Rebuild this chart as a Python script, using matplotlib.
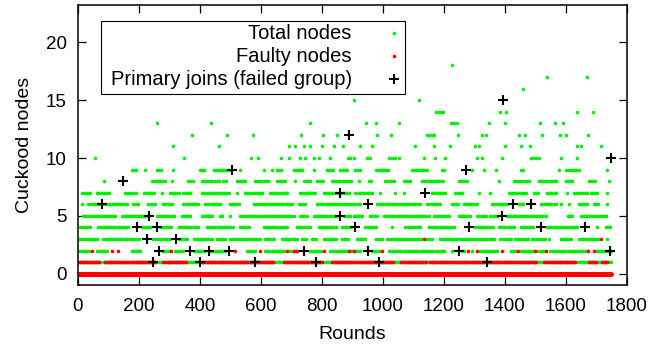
import numpy as np
import matplotlib
matplotlib.use("Agg")
import matplotlib.pyplot as plt
from matplotlib.patches import Rectangle

plt.rcParams['font.family'] = ['Liberation Sans', 'DejaVu Sans']

# total nodes: per level, runs of rounds (start, end) where dots appear
total_1 = [(0, 1750)]
total_2 = [(1, 39), (61, 100), (176, 209), (280, 302), (318, 351), (384, 417), (434, 488),
           (554, 587), (614, 680), (696, 718), (762, 800), (828, 926), (965, 987),
           (1019, 1205), (1227, 1227), (1260, 1271), (1293, 1293), (1320, 1381),
           (1419, 1441), (1452, 1496), (1507, 1534), (1550, 1671), (1698, 1747)]
total_3 = [(1, 67), (83, 160), (171, 204), (247, 308), (330, 362), (379, 428), (434, 445),
           (455, 488), (499, 598), (614, 647), (669, 718), (735, 751), (767, 784),
           (806, 850), (866, 893), (915, 943), (976, 998), (1014, 1129), (1140, 1162),
           (1189, 1370), (1386, 1424), (1435, 1479), (1490, 1534), (1545, 1545),
           (1583, 1622), (1643, 1709), (1736, 1736)]
total_4 = [(6, 45), (67, 171), (209, 242), (269, 308), (330, 395), (423, 510), (532, 565),
           (609, 691), (718, 762), (789, 850), (866, 899), (943, 981), (1030, 1030),
           (1074, 1129), (1151, 1238), (1304, 1364), (1381, 1430), (1452, 1496),
           (1539, 1638), (1704, 1704), (1731, 1747)]
total_5 = [(17, 127), (143, 236), (258, 318), (340, 373), (406, 445), (466, 477),
           (499, 499), (532, 707), (729, 751), (773, 850), (872, 893), (905, 937),
           (959, 981), (1003, 1151), (1167, 1222), (1250, 1288), (1310, 1343),
           (1353, 1375), (1408, 1540), (1606, 1622), (1649, 1737)]
total_6 = [(12, 12), (34, 160), (182, 198), (231, 258), (280, 308), (346, 395), (417, 466),
           (499, 532), (576, 707), (724, 751), (784, 927), (981, 1124), (1146, 1190),
           (1227, 1249), (1266, 1310), (1359, 1408), (1446, 1463), (1518, 1573),
           (1584, 1589), (1611, 1611), (1643, 1676), (1693, 1709), (1736, 1736)]
total_7 = [(12, 45), (61, 105), (154, 193), (215, 253), (275, 275), (302, 330), (346, 373),
           (406, 499), (521, 521), (548, 609), (630, 691), (729, 784), (806, 893),
           (910, 970), (992, 992), (1041, 1041), (1069, 1069), (1162, 1205), (1238, 1260),
           (1315, 1315), (1353, 1353), (1413, 1474), (1496, 1512), (1539, 1567),
           (1605, 1605), (1627, 1671), (1682, 1704), (1736, 1736)]
total_8 = [(86, 86), (242, 286), (308, 308), (362, 379), (406, 466), (477, 488), (521, 554),
           (581, 625), (652, 685), (713, 713), (740, 762), (784, 806), (833, 899),
           (921, 921), (954, 965), (1008, 1041), (1069, 1096), (1129, 1205), (1249, 1282),
           (1381, 1381), (1430, 1479), (1512, 1572), (1600, 1622), (1676, 1698),
           (1742, 1742)]
total_9 = [(176, 193), (220, 220), (258, 277), (313, 313), (401, 417), (445, 494),
           (532, 532), (609, 609), (636, 636), (652, 669), (707, 740), (773, 773),
           (817, 844), (861, 883), (910, 926), (976, 1019), (1096, 1151), (1195, 1205),
           (1293, 1293), (1331, 1331), (1370, 1370), (1452, 1465), (1578, 1578),
           (1600, 1643), (1736, 1736)]
total_10 = [56, 348, 567, 589, 666, 693, 727, 746, 773, 789, 828, 885, 893, 904, 948, 959,
            1019, 1030, 1041, 1052, 1134, 1170, 1205, 1310, 1326, 1392, 1485, 1494, 1503,
            1512, 1583, 1638]
total_11 = [313, 464, 693, 713, 743, 762, 802, 839, 869, 926, 965, 1107, 1167, 1219, 1304,
            1315, 1402, 1452, 1482, 1638, 1649, 1715]
total_12 = [375, 490, 573, 730, 805, 850, 982, 1028, 1145, 1152, 1160, 1167, 1248, 1324,
            1339, 1446, 1465, 1523, 1581, 1602, 1674]
total_13 = [258, 436, 761, 945, 977, 1054, 1224, 1233, 1242, 1347, 1400, 1515, 1566, 1590]
total_14 = [1176, 1183, 1190, 1198, 1386, 1403, 1638, 1688]
total_15 = [905, 1118]
total_16 = [1460]
total_17 = [1540, 1669]
total_18 = [1227]

# faulty nodes
faulty_0 = [(0, 1750)]
faulty_1 = [(0, 72), (89, 258), (280, 357), (406, 645), (675, 800), (832, 1035),
            (1058, 1145), (1156, 1505), (1530, 1632), (1675, 1700), (1720, 1735)]
faulty_2 = [47, 113, 132, 305, 516, 596, 685, 708, 720, 806, 888, 905, 997, 1280, 1310,
            1391, 1444, 1499, 1536, 1673, 1693]
faulty_3 = [1134, 1715]
faulty_neg = [0]

# primary joins (failed group)
join_x = [78, 149, 195, 228, 234, 247, 258, 265, 321, 368, 401, 430, 496, 505, 581, 743,
          781, 858, 861, 888, 910, 950, 950, 986, 1138, 1251, 1273, 1282, 1343, 1390, 1394,
          1428, 1487, 1519, 1663, 1745, 1747]
join_y = [6, 8, 4, 3, 5, 1, 4, 2, 3, 2, 1, 2, 2, 9, 1, 2,
          1, 7, 5, 12, 4, 6, 2, 1, 7, 2, 9, 4, 1, 5, 15,
          6, 6, 4, 4, 2, 10]


def expand(runs, level, step=7):
    xs = []
    for r in runs:
        if isinstance(r, tuple):
            xs.extend(np.arange(r[0], r[1] + 1, step))
        else:
            xs.append(r)
    xs = np.array(xs, dtype=float)
    return xs, np.full(len(xs), level, dtype=float)


green = '#00f000'
red = '#ff0000'

fig = plt.figure(figsize=(6.52, 3.49), dpi=100)
ax = fig.add_axes([0.1196, 0.1825, 0.8416, 0.804])

totals = [total_1, total_2, total_3, total_4, total_5, total_6, total_7, total_8, total_9,
          total_10, total_11, total_12, total_13, total_14, total_15, total_16, total_17,
          total_18]
for i, runs in enumerate(totals):
    x, y = expand(runs, i + 1)
    ax.plot(x, y, 'o', color=green, ms=2.6, mew=0)

x, y = expand(faulty_0, 0, step=2)
ax.plot(x, y, 'o', color=red, ms=3.2, mew=0)
for lvl, runs in [(1, faulty_1), (2, faulty_2), (3, faulty_3), (-1, faulty_neg)]:
    x, y = expand(runs, lvl, step=5)
    ax.plot(x, y, 'o', color=red, ms=2.6, mew=0)

ax.plot(join_x, join_y, '+', color='black', ms=7.5, mew=1.5)

ax.set_xlim(0, 1800)
ax.set_ylim(-1, 23.25)
ax.set_xticks(np.arange(0, 1801, 200))
ax.set_yticks([0, 5, 10, 15, 20])
ax.tick_params(direction='in', length=5.8, width=0.9, top=True, right=True,
               labelsize=13.5, colors='black')
ax.tick_params(axis='x', pad=9)
ax.tick_params(axis='y', pad=8)
for s in ax.spines.values():
    s.set_linewidth(1.1)
ax.set_xlabel('Rounds', fontsize=14, labelpad=8)
ax.set_ylabel('Cuckood nodes', fontsize=14, labelpad=9)

# legend, gnuplot style: text right aligned, sample on the right
ax.add_patch(Rectangle((0.0414, 0.681), 0.5551, 0.262, transform=ax.transAxes,
                       facecolor='white', edgecolor='black', lw=0.8, zorder=5))
labels = ['Total nodes', 'Faulty nodes', 'Primary joins (failed group)']
rows = [0.899, 0.817, 0.735]
for lab, yy in zip(labels, rows):
    ax.text(0.4988, yy, lab, transform=ax.transAxes, ha='right', va='center',
            fontsize=14.5, zorder=6)
ax.plot([0.576], [rows[0]], 'o', color=green, ms=2.6, mew=0, transform=ax.transAxes, zorder=6)
ax.plot([0.576], [rows[1]], 'o', color=red, ms=2.6, mew=0, transform=ax.transAxes, zorder=6)
ax.plot([0.576], [rows[2]], '+', color='black', ms=7.5, mew=1.5, transform=ax.transAxes,
        zorder=6)

fig.savefig('out.png', dpi=100)
